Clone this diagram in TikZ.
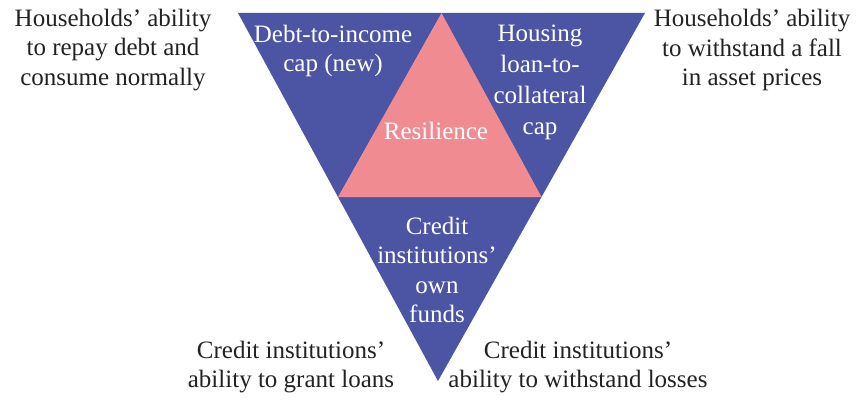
\documentclass[tikz,border=0pt]{standalone}
\usepackage{fontspec}
\setmainfont{Liberation Serif}
\usetikzlibrary{calc}

\definecolor{triblue}{RGB}{76,84,164}
\definecolor{tripink}{RGB}{240,139,146}
\definecolor{txtgray}{RGB}{34,34,34}

\begin{document}
\begin{tikzpicture}[x=1pt, y=-1pt,
	lbl/.style={align=center, inner sep=0pt, text=txtgray, font=\fontsize{25}{29.5}\selectfont},
	inlbl/.style={lbl, text=white}]
	\useasboundingbox (0,0) rectangle (859,401);

	% triangle
	\coordinate (TL) at (238,13);
	\coordinate (TR) at (645,13);
	\coordinate (B) at (438,381);
	\coordinate (ML) at ($(TL)!0.5!(B)$);
	\coordinate (MR) at ($(TR)!0.5!(B)$);
	\coordinate (MT) at ($(TL)!0.5!(TR)$);
	\fill[triblue] (TL) -- (TR) -- (B) -- cycle;
	\fill[tripink] (MT) -- (MR) -- (ML) -- cycle;

	% inside labels
	\node[inlbl] (dti) at (333,51) {Debt-to-income\\cap (new)};
	\node[inlbl, font=\fontsize{25}{31}\selectfont] (ltc) at (540,82) {Housing\\loan-to-\\collateral\\cap};
	\node[inlbl] (res) at (436,131) {Resilience};
	\node[inlbl] (own) at (437,270) {Credit\\institutions'\\own\\funds};

	% outside labels
	\node[lbl] (hhl) at (113,50) {Households' ability\\to repay debt and\\consume normally};
	\node[lbl] (hhr) at (752,50) {Households' ability\\to withstand a fall\\in asset prices};
	\node[lbl] (cil) at (291,367) {Credit institutions'\\ability to grant loans};
	\node[lbl] (cir) at (578,367) {Credit institutions'\\ability to withstand losses};

\end{tikzpicture}
\end{document}
